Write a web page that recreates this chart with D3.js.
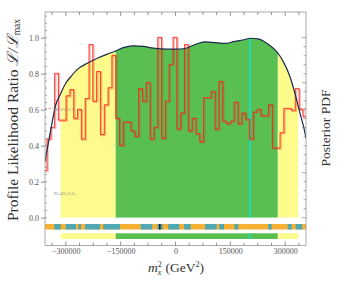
<!DOCTYPE html>
<html>
<head>
<meta charset="utf-8">
<script src="https://cdn.jsdelivr.net/npm/d3@7"></script>
<style>
body { margin: 0; background: #fff; }
text { font-family: "Liberation Serif", "DejaVu Serif", serif; }
</style>
</head>
<body>
<div id="chart"></div>
<script>
// posterior pdf (normalised to its max)
var postX = [-357000, -341400, -327700, -314000, -300400, -286700, -268600, -241300, -213900, -186600,
    -165500, -142800, -115400, -88100, -60700, -24100, 3300, 26000, 53300, 80700, 108100, 135400,
    162800, 190100, 203800, 226500, 249500, 276800, 294900, 313200, 326900, 340600, 354300, 357000];
var postY = [0.31, 0.487, 0.626, 0.69, 0.747, 0.783, 0.824, 0.858, 0.886, 0.909,
    0.925, 0.945, 0.955, 0.952, 0.942, 0.936, 0.936, 0.94, 0.962, 0.977, 0.973, 0.968,
    0.98, 0.99, 0.997, 0.993, 0.969, 0.922, 0.867, 0.783, 0.69, 0.58, 0.47, 0.44];

// profile likelihood histogram
var binStart = -361000;
var binWidth = 10450;
var profL = [0.26, 0.435, 0.50, 0.80, 0.54, 0.54, 0.675, 0.71, 0.55, 0.60,
    0.435, 0.66, 0.96, 0.645, 0.81, 0.46, 0.625, 0.72, 0.90, 0.55,
    0.40, 0.53, 0.53, 0.48, 0.45, 0.715, 0.645, 0.75, 0.435, 0.50,
    1.0, 0.44, 0.645, 0.85, 1.0, 0.49, 0.58, 0.96, 0.48, 0.55,
    0.465, 0.42, 0.665, 0.665, 0.70, 0.49, 0.755, 0.535, 0.52, 0.535,
    0.64, 0.52, 0.58, 0.545, 0.435, 0.585, 0.60, 0.565, 0.565, 0.625,
    0.385, 0.385, 0.47, 0.605, 0.605, 0.595, 0.715, 0.60, 0.56];

// credible intervals and best fit
var ci95 = [[-314000, -163600], [279600, 336000]];
var ci68 = [[-163600, 279600]];
var bestFit = 203800;

// profile likelihood confidence bar (teal pieces, rest orange)
var tealFrom = [-331600, -300400, -265900, -247600, -197500, -95200, -49800, -40500, -19700, 23300, 80700, 119800, 161400, 253900, 306900, 328800];
var tealTo   = [-314000, -272200, -258500, -206500, -151800, -63500, -45100, -35000, 10400, 41600, 112700, 132700, 171800, 263200, 317900, 346900];
var blackMark = -42800;

var clLevels = [0.6065, 0.135];
var clLabels = ["68.3% C.L.", "95.4% C.L."];

var xTicks = [-300000, -150000, 0, 150000, 300000];
var yTicks = [0, 0.2, 0.4, 0.6, 0.8, 1.0];

var svgWidth = 353, svgHeight = 283;
var frame = {left: 45, right: 306, top: 12, bottom: 245.5};

var svg = d3.select("#chart").append("svg")
    .attr("width", svgWidth)
    .attr("height", svgHeight);

var x = d3.scaleLinear().domain([-357000, 357000]).range([frame.left, frame.right]);
var y = d3.scaleLinear().domain([0, 1]).range([217.7, 37.7]);

var defs = svg.append("defs");
defs.append("clipPath").attr("id", "plotclip").append("rect")
    .attr("x", frame.left).attr("y", frame.top)
    .attr("width", frame.right - frame.left).attr("height", y(0) - frame.top);

var area = d3.area()
    .x((d, i) => x(postX[i]))
    .y0(y(0))
    .y1(d => y(d))
    .curve(d3.curveMonotoneX);

function fillRegions(list, color, id) {
    list.forEach(function (r, k) {
        defs.append("clipPath").attr("id", id + k).append("rect")
            .attr("x", x(r[0])).attr("y", frame.top)
            .attr("width", x(r[1]) - x(r[0])).attr("height", y(0) - frame.top);
        svg.append("path")
            .datum(postY)
            .attr("clip-path", `url(#${id}${k})`)
            .attr("fill", color)
            .attr("d", area);
    });
}
fillRegions(ci95, "#fdfb8c", "c95");
fillRegions(ci68, "#58bf50", "c68");

// best fit line
svg.append("line")
    .attr("x1", x(bestFit)).attr("x2", x(bestFit))
    .attr("y1", y(0)).attr("y2", y(0.997))
    .attr("stroke", "#00e8ee").attr("stroke-width", 1.3);

// histogram
var edges = profL.map((d, i) => binStart + i * binWidth);
var stepPts = profL.map((d, i) => [edges[i], d]);
stepPts.push([binStart + profL.length * binWidth, profL[profL.length - 1]]);
var step = d3.line()
    .x(d => x(d[0]))
    .y(d => y(d[1]))
    .curve(d3.curveStepAfter);

var histG = svg.append("g").attr("clip-path", "url(#plotclip)");
histG.append("path").datum(stepPts)
    .attr("fill", "none")
    .attr("stroke", "rgba(235,50,40,0.35)")
    .attr("stroke-width", 1.8)
    .attr("transform", "translate(0.5,0.5)")
    .attr("d", step);
histG.append("path").datum(stepPts)
    .attr("fill", "none")
    .attr("stroke", "#ff1a10")
    .attr("stroke-width", 0.8)
    .attr("transform", "translate(-0.4,-0.4)")
    .attr("d", step);

// posterior curve
svg.append("path").datum(postY)
    .attr("clip-path", "url(#plotclip)")
    .attr("fill", "none")
    .attr("stroke", "#1c2a4e")
    .attr("stroke-width", 1.2)
    .attr("d", d3.line().x((d, i) => x(postX[i])).y(d => y(d)).curve(d3.curveMonotoneX));

// C.L. markers
svg.append("line")
    .attr("x1", frame.left).attr("x2", frame.left + 8)
    .attr("y1", y(clLevels[0])).attr("y2", y(clLevels[0]))
    .attr("stroke", "#f07050").attr("stroke-width", 0.8)
    .attr("stroke-dasharray", "2,1.5");
svg.append("line")
    .attr("x1", frame.right - 6).attr("x2", frame.right)
    .attr("y1", y(clLevels[0])).attr("y2", y(clLevels[0]))
    .attr("stroke", "#f07050").attr("stroke-width", 0.8)
    .attr("stroke-dasharray", "2,1.5");
clLevels.forEach(function (c, i) {
    svg.append("text")
        .attr("x", frame.left + 8.5)
        .attr("y", y(c) + 2)
        .style("font-size", "5px")
        .style("fill", "#8a8a8a")
        .text(clLabels[i]);
});

// bottom bars
var barY1 = 224, barH1 = 5.5;
svg.append("rect")
    .attr("x", frame.left).attr("y", barY1)
    .attr("width", frame.right - frame.left).attr("height", barH1)
    .attr("fill", "#f6b032");
svg.selectAll(".teal")
    .data(tealFrom)
    .enter()
    .append("rect")
    .attr("x", d => x(d))
    .attr("y", barY1)
    .attr("width", (d, i) => x(tealTo[i]) - x(d))
    .attr("height", barH1)
    .attr("fill", "#4ea9b4");
svg.append("rect")
    .attr("x", x(blackMark) - 0.8).attr("y", barY1)
    .attr("width", 1.6).attr("height", barH1)
    .attr("fill", "#1a1a2a");

var barY2 = 233.3, barH2 = 5.7;
ci95.forEach(function (r) {
    svg.append("rect")
        .attr("x", x(r[0])).attr("y", barY2)
        .attr("width", x(r[1]) - x(r[0])).attr("height", barH2)
        .attr("fill", "#fdfb8c");
});
ci68.forEach(function (r) {
    svg.append("rect")
        .attr("x", x(r[0])).attr("y", barY2)
        .attr("width", x(r[1]) - x(r[0])).attr("height", barH2)
        .attr("fill", "#58bf50");
});
svg.append("line")
    .attr("x1", x(bestFit)).attr("x2", x(bestFit))
    .attr("y1", barY2).attr("y2", barY2 + barH2)
    .attr("stroke", "#00e8ee").attr("stroke-width", 1.3);

// frame
var axisCol = "#a0a0a0";
svg.append("path")
    .attr("d", `M${frame.left},${frame.top}H${frame.right}V${frame.bottom}H${frame.left}Z`)
    .attr("fill", "none")
    .attr("stroke", axisCol)
    .attr("stroke-width", 0.9);

// x ticks (top and bottom, inward)
var xMinor = d3.range(-337500, 337501, 37500);
xMinor.forEach(function (v) {
    var major = xTicks.indexOf(v) >= 0;
    var len = major ? 4 : 3;
    svg.append("line").attr("x1", x(v)).attr("x2", x(v))
        .attr("y1", frame.bottom).attr("y2", frame.bottom - len)
        .attr("stroke", "#666").attr("stroke-width", 0.7);
    svg.append("line").attr("x1", x(v)).attr("x2", x(v))
        .attr("y1", frame.top).attr("y2", frame.top + len)
        .attr("stroke", "#666").attr("stroke-width", 0.7);
});
svg.append("g")
    .attr("transform", `translate(0,${frame.bottom})`)
    .call(d3.axisBottom(x).tickValues(xTicks).tickSize(0).tickPadding(3).tickFormat(d3.format("d")))
    .call(g => g.select(".domain").remove())
    .call(g => g.selectAll("text")
        .style("font-family", "Liberation Serif")
        .style("font-size", "8px")
        .style("fill", "#555"));

// y ticks left
var yMinor = d3.range(0, 1.13, 0.04);
yMinor.forEach(function (v) {
    svg.append("line").attr("x1", frame.left).attr("x2", frame.left + 2)
        .attr("y1", y(v)).attr("y2", y(v))
        .attr("stroke", "#777").attr("stroke-width", 0.6);
});
svg.append("g")
    .attr("transform", `translate(${frame.left},0)`)
    .call(d3.axisLeft(y).tickValues(yTicks).tickSize(4).tickPadding(2).tickFormat(d3.format(".1f")))
    .call(g => g.select(".domain").remove())
    .call(g => g.selectAll("line").attr("stroke", "#666").attr("stroke-width", 0.7))
    .call(g => g.selectAll("text")
        .style("font-family", "Liberation Serif")
        .style("font-size", "8px")
        .style("fill", "#555"));

// right axis (posterior pdf, no labels)
var y2 = d3.scaleLinear().domain([0, 1]).range([217.7, 37.7]);
d3.range(0, 1.01, 0.05).forEach(function (v, i) {
    svg.append("line").attr("x1", frame.right).attr("x2", frame.right - (i % 5 == 0 ? 4 : 2.5))
        .attr("y1", y2(v)).attr("y2", y2(v))
        .attr("stroke", "#777").attr("stroke-width", 0.6);
});

// axis titles
var yl = svg.append("text")
    .attr("transform", "translate(18,120) rotate(-90)")
    .attr("text-anchor", "middle")
    .style("font-size", "15.5px")
    .style("fill", "#333");
yl.append("tspan").text("Profile Likelihood Ratio ");
yl.append("tspan").style("font-style", "italic").text("\u2112/\u2112");
yl.append("tspan").attr("dy", "2").style("font-size", "9.5px").text("max");

svg.append("text")
    .attr("transform", "translate(330,128) rotate(-90)")
    .attr("text-anchor", "middle")
    .style("font-size", "13.5px")
    .style("fill", "#333")
    .text("Posterior PDF");

var xl = svg.append("text")
    .attr("x", 176).attr("y", 272)
    .attr("text-anchor", "middle")
    .style("font-size", "13.5px")
    .style("fill", "#333");
xl.append("tspan").style("font-style", "italic").text("m");
xl.append("tspan").attr("dy", "-5").style("font-size", "8px").text("2");
xl.append("tspan").attr("dx", "-4").attr("dy", "8").style("font-size", "8px").style("font-style", "italic").text("x");
xl.append("tspan").attr("dx", "4").attr("dy", "-3").text("(GeV");
xl.append("tspan").attr("dy", "-5").style("font-size", "8px").text("2");
xl.append("tspan").attr("dy", "5").text(")");
</script>
</body>
</html>
